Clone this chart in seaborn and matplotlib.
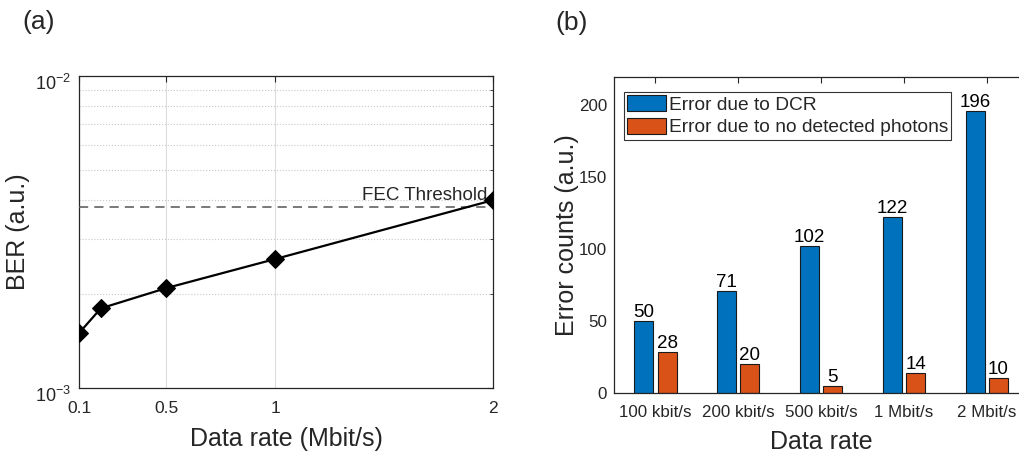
import matplotlib
matplotlib.use('Agg')
import matplotlib.pyplot as plt
import matplotlib.transforms as mtransforms
import seaborn as sns
import pandas as pd
from matplotlib.ticker import FixedLocator, NullFormatter

# ---- data: panel (a)
rates = [0.1, 0.2, 0.5, 1, 2]
ber = [1.5e-3, 1.8e-3, 2.09e-3, 2.59e-3, 4.0e-3]
fec_threshold = 3.8e-3
x_ticks = [0.1, 0.5, 1, 2]
x_tick_labels = ['0.1', '0.5', '1', '2']
y_major = [1e-3, 1e-2]
y_major_labels = ['$10^{-3}$', '$10^{-2}$']
y_minor = [2e-3, 3e-3, 4e-3, 5e-3, 6e-3, 7e-3, 8e-3, 9e-3]

# ---- data: panel (b)
categories = ['100 kbit/s', '200 kbit/s', '500 kbit/s', '1 Mbit/s', '2 Mbit/s']
err_dcr = [50, 71, 102, 122, 196]
err_nophoton = [28, 20, 5, 14, 10]
series = ['Error due to DCR', 'Error due to no detected photons']
colors = ['#0072BD', '#D95319']
y_ticks_b = [0, 50, 100, 150, 200]

sns.set_style('white')
plt.rcParams['font.family'] = ['Liberation Sans', 'DejaVu Sans']
plt.rcParams['mathtext.fontset'] = 'custom'
plt.rcParams['mathtext.rm'] = 'Liberation Sans'
plt.rcParams['mathtext.it'] = 'Liberation Sans:italic'
plt.rcParams['mathtext.default'] = 'regular'

TXT = '#262626'
fig = plt.figure(figsize=(10.2, 4.53), dpi=100)

# ================= panel (a)
ax1 = fig.add_axes([0.0775, 0.1435, 0.4058, 0.6887])
df_a = pd.DataFrame({'rate': rates, 'ber': ber})
sns.lineplot(data=df_a, x='rate', y='ber', ax=ax1, color='black', lw=1.6,
             marker='D', markersize=9.5, markeredgecolor='black', zorder=5)
ax1.set_yscale('log')
ax1.set_xlim(0.1, 2)
ax1.set_ylim(1e-3, 1e-2)
ax1.set_xticks(x_ticks)
ax1.set_xticklabels(x_tick_labels)
ax1.yaxis.set_major_locator(FixedLocator(y_major))
ax1.set_yticklabels(y_major_labels)
ax1.yaxis.set_minor_locator(FixedLocator(y_minor))
ax1.yaxis.set_minor_formatter(NullFormatter())
ax1.grid(False)
ax1.grid(which='major', axis='x', color='#dcdcdc', lw=0.8, ls='-')
ax1.grid(which='minor', axis='y', color='#c8c8c8', lw=0.8, ls=':')
ax1.set_axisbelow(True)
ax1.axhline(fec_threshold, color='#555555', lw=1.1, ls=(0, (6, 4)), zorder=3)
ax1.annotate('FEC Threshold', xy=(2, fec_threshold), xytext=(-4, 2),
             textcoords='offset points', ha='right', va='bottom',
             fontsize=13.5, color=TXT)
ax1.tick_params(axis='both', which='both', direction='in', top=True, right=True,
                colors=TXT, labelsize=12.5)
ax1.tick_params(axis='x', pad=9.5, length=4)
ax1.tick_params(axis='y', which='major', pad=6, length=4, labelsize=13)
ax1.tick_params(axis='y', which='minor', length=2)
ax1.set_xlabel('Data rate (Mbit/s)', fontsize=18, color=TXT, labelpad=8)
ax1.set_ylabel('BER (a.u.)', fontsize=18, color=TXT, labelpad=3)
for s in ax1.spines.values():
    s.set_color(TXT)
    s.set_linewidth(0.9)
offset = mtransforms.ScaledTranslation(0, -6 / 100, fig.dpi_scale_trans)
for tick in ax1.yaxis.get_major_ticks():
    tick.label1.set_transform(tick.label1.get_transform() + offset)

# ================= panel (b)
ax2 = fig.add_axes([0.602, 0.1331, 0.406, 0.6976])
df_b = pd.DataFrame({
    'rate': categories * 2,
    'count': err_dcr + err_nophoton,
    'type': [series[0]] * len(categories) + [series[1]] * len(categories),
})
sns.barplot(data=df_b, x='rate', y='count', hue='type', order=categories,
            hue_order=series, palette=colors, width=0.56, gap=0.18,
            edgecolor='#1a1a1a', linewidth=0.8, saturation=1, ax=ax2)
for cont in ax2.containers:
    ax2.bar_label(cont, fontsize=13.5, padding=0, color='black')
ax2.set_xlim(-0.5, 4.5)
ax2.set_ylim(0, 220)
ax2.set_yticks(y_ticks_b)
ax2.tick_params(axis='both', direction='in', top=True, right=False,
                colors=TXT, labelsize=12.2, length=4)
ax2.tick_params(axis='x', pad=9)
ax2.tick_params(axis='y', pad=5)
ax2.set_xlabel('Data rate', fontsize=18, color=TXT, labelpad=7)
ax2.set_ylabel('Error counts (a.u.)', fontsize=18, color=TXT, labelpad=0)
for s in ax2.spines.values():
    s.set_color(TXT)
    s.set_linewidth(0.9)
leg = ax2.legend(loc='upper left', bbox_to_anchor=(624 / 1020, 1 - 91.7 / 453),
                 bbox_transform=fig.transFigure, borderaxespad=0,
                 fontsize=13.8, frameon=True, fancybox=False, edgecolor='black',
                 handlelength=2.0, handleheight=0.9, handletextpad=0.15,
                 labelspacing=0.22, borderpad=0.18, title=None)
leg.get_frame().set_linewidth(0.8)

fig.text(22 / 1020, 1 - 22 / 453, '(a)', fontsize=19, va='center', ha='left')
fig.text(555 / 1020, 1 - 23 / 453, '(b)', fontsize=19, va='center', ha='left')

fig.savefig('out.png', dpi=100)
